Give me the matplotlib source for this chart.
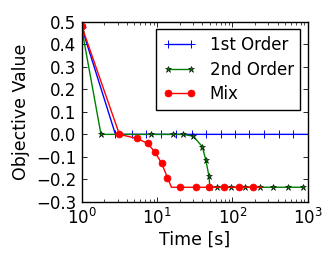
import matplotlib
matplotlib.use("Agg")
import matplotlib.pyplot as plt
import numpy as np

# Data (time in seconds, objective values)
t_first = [1.0, 2.8, 4.6, 7.1, 11.2, 17.8, 28.8, 44.6, 69.8, 108, 167, 262, 411, 641, 995]
v_first = [0.475, 0.0, 0.0, 0.0, 0.0, 0.0, 0.0, 0.0, 0.0, 0.0, 0.0, 0.0, 0.0, 0.0, 0.0]

t_second = [1.0, 1.8, 8.3, 16.4, 21.8, 30.2, 39.8, 44.1, 48.8, 50.1, 61.7, 94.6, 146.6, 231.7, 347.5, 549.5, 869.0]
v_second = [0.47, 0.0, 0.0, 0.0, 0.0, -0.008, -0.055, -0.112, -0.186, -0.235, -0.235, -0.235, -0.235, -0.235, -0.235, -0.235, -0.235]

t_mix = [1.0, 3.16, 5.36, 7.5, 9.4, 11.5, 13.7, 15.5, 20.1, 32.8, 49.2, 77.1, 120.8, 188.8, 244.0]
v_mix = [0.48, 0.0, -0.018, -0.04, -0.08, -0.129, -0.192, -0.235, -0.235, -0.235, -0.235, -0.235, -0.235, -0.235, -0.235]
mix_marked = [0, 1, 2, 3, 4, 5, 6, 8, 9, 10, 11, 12, 13]

labels = ["1st Order", "2nd Order", "Mix"]
yticks = [-0.3, -0.2, -0.1, 0.0, 0.1, 0.2, 0.3, 0.4, 0.5]

plt.rcParams['font.family'] = ['DejaVu Sans']
plt.rcParams['font.size'] = 12
plt.rcParams['axes.unicode_minus'] = True

fig = plt.figure(figsize=(3.35, 2.66), dpi=100)
ax = fig.add_axes([0.244, 0.241, 0.675, 0.677])

ax.plot(t_first, v_first, color='blue', marker='+', markersize=5.5, markeredgewidth=0.7,
        linewidth=1.0, label=labels[0])
ax.plot(t_second, v_second, color='green', marker='*', markersize=5, markeredgecolor='black',
        markeredgewidth=0.4, linewidth=1.0, label=labels[1])
ax.plot(t_mix, v_mix, color='red', marker='o', markersize=5, markeredgecolor='red',
        markeredgewidth=0.5, linewidth=1.0, markevery=mix_marked, label=labels[2])

ax.set_xscale('log')
ax.set_xlim(1, 1000)
ax.set_ylim(-0.3, 0.5)
ax.set_yticks(yticks)
ax.set_yticklabels(["%.1f" % v if v >= 0 else "\u2212%.1f" % abs(v) for v in yticks])

ax.tick_params(which='both', direction='in', top=True, right=True, labelsize=12)
ax.tick_params(which='major', length=3.5, width=0.6, pad=4)
ax.tick_params(which='minor', length=2, width=0.5)
for s in ax.spines.values():
    s.set_linewidth(1.0)

ax.set_xlabel("Time [s]", fontsize=12.5, labelpad=2)
ax.set_ylabel("Objective Value", fontsize=12.5, labelpad=4)

leg = ax.legend(loc='upper right', numpoints=2, fontsize=12, fancybox=False,
                framealpha=1, edgecolor='black', borderaxespad=0.45,
                handlelength=2.0, labelspacing=0.4, borderpad=0.4)
leg.get_frame().set_linewidth(1.0)

fig.savefig("out.png", dpi=100)
